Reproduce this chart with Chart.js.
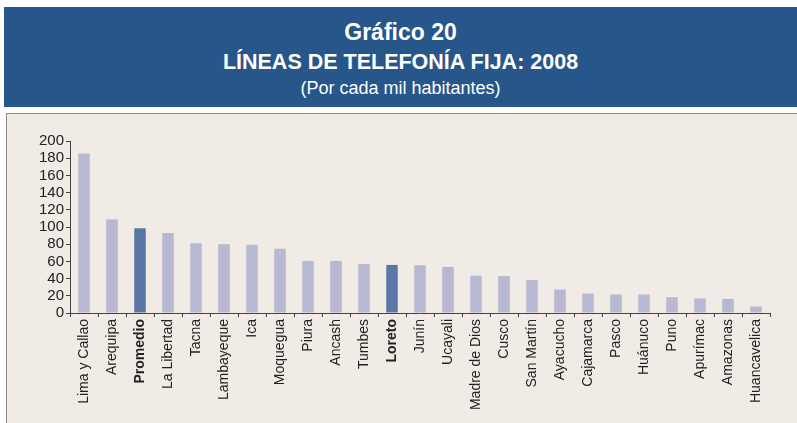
<!DOCTYPE html>
<html>
<head>
<meta charset="utf-8">
<script src="https://cdn.jsdelivr.net/npm/chart.js@4"></script>
<style>
  body { margin: 0; background: #fff; width: 797px; height: 423px; overflow: hidden; position: relative; font-family: "Liberation Sans", Arial, sans-serif; }
  #head { position: absolute; left: 4px; top: 7px; width: 793px; height: 100px; background: #26568a; color: #fff; text-align: center; }
  #head div { position: absolute; left: 0; right: 0; }
  #t1 { top: 12px; font-size: 23px; font-weight: bold; }
  #t2 { top: 43px; font-size: 21.5px; font-weight: bold; }
  #t3 { top: 71px; font-size: 18px; }
  #panel { position: absolute; left: 6px; top: 113px; width: 790px; height: 310px; background: #f0ebe4; border-left: 1px solid #8a8a8a; border-top: 1px solid #8a8a8a; }
</style>
</head>
<body>
<div id="head">
  <div id="t1">Gráfico 20</div>
  <div id="t2">LÍNEAS DE TELEFONÍA FIJA: 2008</div>
  <div id="t3">(Por cada mil habitantes)</div>
</div>
<div id="panel"><canvas id="graph"></canvas></div>
<script>
const regions = ["Lima y Callao", "Arequipa", "Promedio", "La Libertad", "Tacna", "Lambayeque", "Ica",
    "Moquegua", "Piura", "Ancash", "Tumbes", "Loreto", "Junín", "Ucayali", "Madre de Dios", "Cusco",
    "San Martín", "Ayacucho", "Cajamarca", "Pasco", "Huánuco", "Puno", "Apurímac", "Amazonas", "Huancavelica"];
const lines = [185.6, 108.6, 98.5, 93, 81, 80, 79.3, 74.7, 60.6, 60.6, 57, 55.9, 55.5, 53.6, 43.4, 43,
    38.3, 27.4, 22.7, 21.5, 21.5, 18.4, 16.9, 16.4, 7.5];
const highlighted = ["Promedio", "Loreto"];

const isHi = i => highlighted.includes(regions[i]);

const canvas = document.getElementById('graph');
canvas.width = 790;
canvas.height = 310;

const config = {
    type: 'bar',
    data: {
        labels: regions,
        datasets: [{
            data: lines,
            backgroundColor: regions.map((_, i) => isHi(i) ? '#5a76a6' : '#b8b8d2'),
            barPercentage: 0.41,
            categoryPercentage: 1
        }]
    },
    options: {
        responsive: false,
        animation: false,
        layout: { padding: { top: 27, right: 27, left: 0, bottom: 0 } },
        plugins: {
            legend: { display: false },
            tooltip: { enabled: false }
        },
        scales: {
            x: {
                grid: { drawOnChartArea: false, tickLength: 4, color: '#444', offset: true },
                border: { color: '#444' },
                ticks: {
                    minRotation: 90,
                    maxRotation: 90,
                    autoSkip: false,
                    padding: 2,
                    color: '#222',
                    font: ctx => ({
                        family: '"Liberation Sans", Arial, sans-serif',
                        size: 14,
                        weight: isHi(ctx.index) ? 'bold' : 'normal'
                    })
                },
                afterFit: s => { s.height = 111; }
            },
            y: {
                min: 0,
                max: 200,
                grid: { drawOnChartArea: false, tickLength: 4, color: '#444' },
                border: { color: '#444' },
                ticks: {
                    stepSize: 20,
                    autoSkip: false,
                    padding: 2,
                    color: '#222',
                    font: { family: '"Liberation Sans", Arial, sans-serif', size: 15 }
                },
                afterFit: s => { s.width = 63; }
            }
        }
    }
};

const graph = new Chart(canvas, config);
</script>
</body>
</html>
